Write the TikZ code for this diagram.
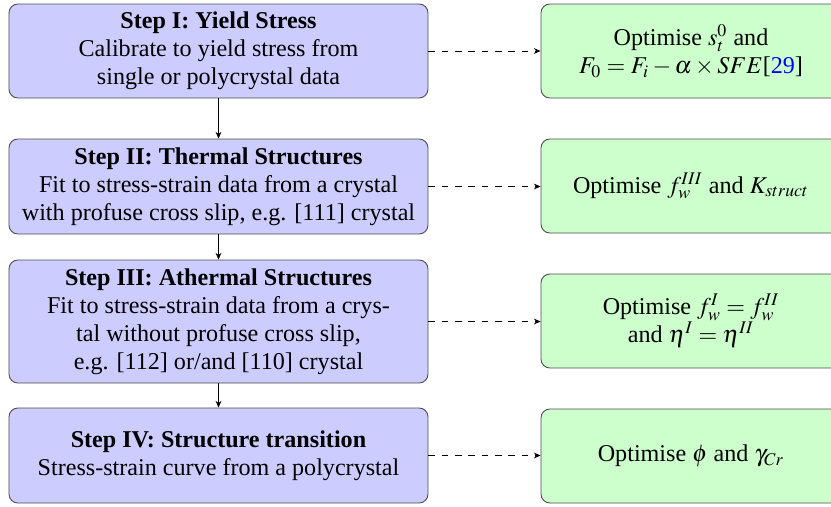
\documentclass[tikz,border=0pt]{standalone}
\usepackage{mathptmx}
\usepackage[no-math]{fontspec}
\setmainfont{Liberation Serif}
\usetikzlibrary{arrows.meta}
\begin{document}
\begin{tikzpicture}[x=0.45pt,y=-0.45pt,
  txt/.style={font=\fontsize{10.85}{12.6}\selectfont},
  stepbox/.style={txt, draw=black!70, fill=blue!20, rounded corners=4pt, align=center,
    minimum width=188.55pt, inner sep=0pt},
  optbox/.style={txt, draw=black!70, fill=green!20, rounded corners=4pt, align=center,
    minimum width=135pt, minimum height=42.3pt, inner sep=0pt},
  flow/.style={-{Stealth[length=3pt,width=2.6pt]}, black},
  link/.style={dashed, -{Stealth[length=3pt,width=2.6pt]}, black}]
\useasboundingbox (0,0) rectangle (831,506);
\clip (0,0) rectangle (831,506);

\node[stepbox, minimum height=42.3pt] (s1) at (218.5,51)
  {\textbf{Step I: Yield Stress}\\Calibrate to yield stress from\\single or polycrystal data};
\node[stepbox, minimum height=42.75pt] (s2) at (218.5,186.5)
  {\textbf{Step II: Thermal Structures}\\Fit to stress-strain data from a crystal\\with profuse cross slip, e.g. [111] crystal};
\node[stepbox, minimum height=55.35pt] (s3) at (218.5,321.5)
  {\textbf{Step III: Athermal Structures}\\Fit to stress-strain data from a crys-\\tal without profuse cross slip,\\e.g. [112] or/and [110] crystal};
\node[stepbox, minimum height=42.75pt] (s4) at (218.5,455.5)
  {\textbf{Step IV: Structure transition}\\Stress-strain curve from a polycrystal};

\node[optbox] (o1) at (691,51)
  {Optimise $s_t^0$ and\\$F_0 = F_i - \alpha \times SFE$[{\color{blue}29}]};
\node[optbox] (o2) at (691,186)
  {Optimise $f_w^{III}$ and $K_{struct}$};
\node[optbox] (o3) at (691,321)
  {Optimise $f_w^I = f_w^{II}$\\and $\eta^I = \eta^{II}$};
\node[optbox] (o4) at (691,456)
  {Optimise $\phi$ and $\gamma_{Cr}$};

\draw[flow] (s1) -- (s2);
\draw[flow] (s2) -- (s3);
\draw[flow] (s3) -- (s4);

\draw[link] (s1.east) -- (s1.east -| o1.west);
\draw[link] (s2.east) -- (s2.east -| o2.west);
\draw[link] (s3.east) -- (s3.east -| o3.west);
\draw[link] (s4.east) -- (s4.east -| o4.west);
\end{tikzpicture}
\end{document}
